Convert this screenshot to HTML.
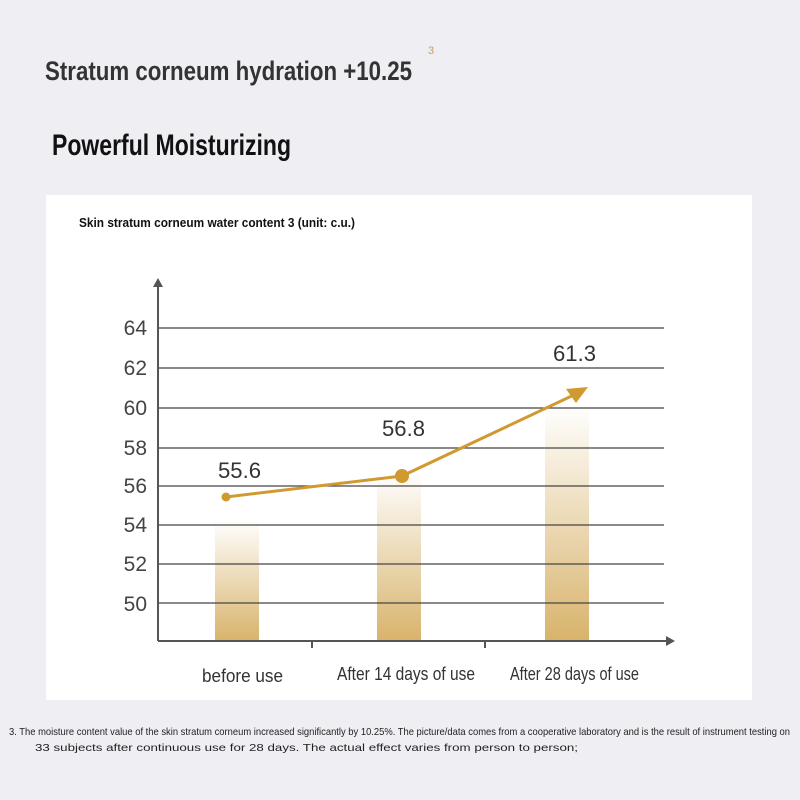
<!DOCTYPE html>
<html><head><meta charset="utf-8"><style>
html,body{margin:0;padding:0;background:#efeef3;}
svg{display:block;}
</style></head><body>
<svg width="800" height="800" viewBox="0 0 800 800" xmlns="http://www.w3.org/2000/svg" font-family="Liberation Sans, sans-serif">
<defs>
<linearGradient id="g" x1="0" y1="0" x2="0" y2="1">
<stop offset="0" stop-color="#d8b36b" stop-opacity="0"/>
<stop offset="1" stop-color="#d8b36b" stop-opacity="1"/>
</linearGradient>
</defs>
<rect width="800" height="800" fill="#efeef3"/>
<text x="45" y="80" font-size="27" font-weight="bold" fill="#333" textLength="367" lengthAdjust="spacingAndGlyphs">Stratum corneum hydration +10.25</text>
<text x="428" y="54" font-size="11" fill="#c9a060">3</text>
<text x="52" y="155" font-size="30" font-weight="bold" fill="#111" textLength="239" lengthAdjust="spacingAndGlyphs">Powerful Moisturizing</text>
<rect x="46" y="195" width="706" height="505" fill="#fff"/>
<text x="79" y="227" font-size="13" font-weight="bold" fill="#111" textLength="276" lengthAdjust="spacingAndGlyphs">Skin stratum corneum water content 3 (unit: c.u.)</text>
<rect x="215" y="520" width="44" height="121" fill="url(#g)"/>
<rect x="377" y="472" width="44" height="169" fill="url(#g)"/>
<rect x="545" y="405" width="44" height="236" fill="url(#g)"/>
<g stroke="#444" stroke-width="1.3">
<line x1="158" y1="328" x2="664" y2="328"/>
<line x1="158" y1="368" x2="664" y2="368"/>
<line x1="158" y1="408" x2="664" y2="408"/>
<line x1="158" y1="448" x2="664" y2="448"/>
<line x1="158" y1="486" x2="664" y2="486"/>
<line x1="158" y1="525" x2="664" y2="525"/>
<line x1="158" y1="564" x2="664" y2="564"/>
<line x1="158" y1="603" x2="664" y2="603"/>
</g>
<g stroke="#555" stroke-width="2">
<line x1="158" y1="641" x2="668" y2="641"/>
<line x1="158" y1="641" x2="158" y2="285"/>
<line x1="312" y1="641" x2="312" y2="648"/>
<line x1="485" y1="641" x2="485" y2="648"/>
</g>
<polygon points="153,287 163,287 158,278" fill="#555"/>
<polygon points="666,636 666,646 675,641" fill="#555"/>
<g font-size="21" fill="#444" text-anchor="end">
<text x="147" y="335">64</text>
<text x="147" y="375">62</text>
<text x="147" y="415">60</text>
<text x="147" y="455">58</text>
<text x="147" y="493">56</text>
<text x="147" y="532">54</text>
<text x="147" y="571">52</text>
<text x="147" y="611">50</text>
</g>
<polyline points="226,497 402,476 578,393" fill="none" stroke="#d09a30" stroke-width="3"/>
<polygon points="588,387 566,389 576,403" fill="#d09a30"/>
<circle cx="226" cy="497" r="4.5" fill="#d09a30"/>
<circle cx="402" cy="476" r="7" fill="#d09a30"/>
<g font-size="22" fill="#333">
<text x="218" y="478" textLength="43" lengthAdjust="spacingAndGlyphs">55.6</text>
<text x="382" y="436" textLength="43" lengthAdjust="spacingAndGlyphs">56.8</text>
<text x="553" y="361" textLength="43" lengthAdjust="spacingAndGlyphs">61.3</text>
</g>
<g font-size="18" fill="#333">
<text x="202" y="682" textLength="81" lengthAdjust="spacingAndGlyphs">before use</text>
<text x="337" y="680" textLength="138" lengthAdjust="spacingAndGlyphs">After 14 days of use</text>
<text x="510" y="680" textLength="129" lengthAdjust="spacingAndGlyphs">After 28 days of use</text>
</g>
<g font-size="10.5" fill="#222">
<text x="9" y="735" textLength="781" lengthAdjust="spacingAndGlyphs">3. The moisture content value of the skin stratum corneum increased significantly by 10.25%. The picture/data comes from a cooperative laboratory and is the result of instrument testing on</text>
<text x="35" y="751" textLength="543" lengthAdjust="spacingAndGlyphs">33 subjects after continuous use for 28 days. The actual effect varies from person to person;</text>
</g>
</svg>
</body></html>
